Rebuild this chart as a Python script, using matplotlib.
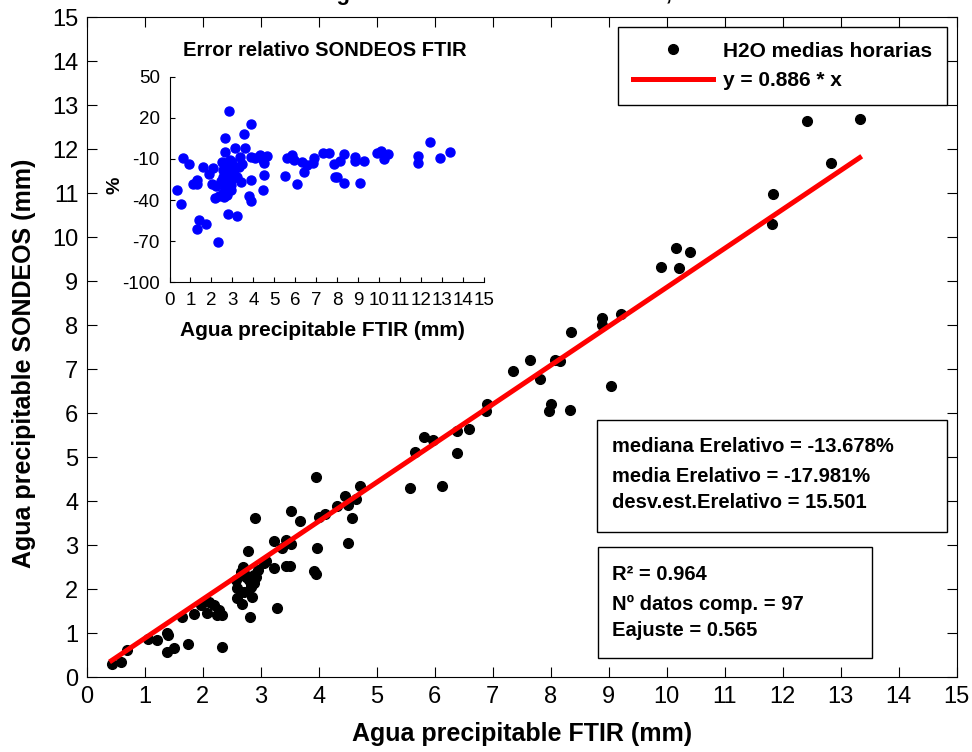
import matplotlib
matplotlib.use('Agg')
import matplotlib.pyplot as plt
from matplotlib.patches import Rectangle

# Agua precipitable, medias horarias (mm)
ftir = [0.43, 0.60, 0.70, 1.06, 1.22, 1.39, 1.40, 1.39, 1.51, 1.74,
        1.65, 1.85, 1.97, 2.11, 2.08, 2.25, 2.29, 2.34, 2.33, 2.57,
        2.60, 2.60, 2.67, 2.70, 2.78, 2.74, 2.80, 2.83, 2.85, 2.81,
        2.89, 2.96, 2.91, 3.10, 3.23, 3.23, 3.29, 3.37, 3.43, 3.43,
        3.50, 3.52, 3.53, 3.67, 3.95, 3.98, 3.92, 3.95, 4.01, 4.11,
        4.31, 4.45, 4.50, 4.50, 4.57, 4.65, 4.71, 5.57, 6.12, 5.67,
        5.81, 5.97, 6.39, 6.38, 6.60, 6.90, 6.88, 7.36, 7.64, 7.82,
        8.00, 7.98, 8.33, 8.08, 8.17, 8.36, 8.88, 8.89, 9.21, 9.05,
        9.90, 10.16, 10.22, 10.40, 11.84, 11.81, 12.43, 12.84, 13.33,
        2.76, 2.88, 2.66, 2.92, 2.72, 2.84, 3.05, 2.20]
sondeos = [0.30, 0.34, 0.62, 0.87, 0.84, 1.01, 0.96, 0.57, 0.66, 0.76,
           1.38, 1.44, 1.64, 1.72, 1.47, 1.42, 1.53, 1.42, 0.70, 2.21,
           2.02, 1.81, 1.66, 2.51, 2.88, 2.29, 2.21, 2.08, 1.83, 1.38,
           2.33, 2.44, 3.61, 2.65, 2.48, 3.10, 1.57, 2.93, 3.12, 2.52,
           2.52, 3.03, 3.79, 3.56, 4.56, 2.93, 2.42, 2.34, 3.65, 3.71,
           3.90, 4.12, 3.92, 3.06, 3.61, 4.05, 4.35, 4.30, 4.35, 5.13,
           5.47, 5.39, 5.10, 5.60, 5.65, 6.21, 6.06, 6.97, 7.20, 6.78,
           6.21, 6.06, 6.07, 7.21, 7.19, 7.84, 8.16, 8.01, 8.26, 6.62,
           9.33, 9.75, 9.30, 9.66, 10.98, 10.30, 12.65, 11.70, 12.70,
           2.30, 2.15, 2.40, 2.28, 1.95, 2.06, 2.60, 1.65]
slope = 0.886

# Error relativo (%) frente a FTIR
err_ftir = [0.37, 0.55, 0.66, 0.95, 1.14, 1.33, 1.30, 1.43, 1.33, 1.73,
            1.62, 1.90, 2.02, 2.09, 2.29, 2.17, 2.38, 2.49, 2.65, 2.65,
            2.84, 2.57, 2.57, 2.65, 2.73, 2.81, 2.89, 2.97, 2.81, 2.78,
            3.24, 3.14, 3.34, 3.21, 3.40, 3.45, 3.53, 3.61, 3.89, 3.89,
            3.81, 3.89, 3.88, 4.08, 4.32, 4.48, 4.51, 4.48, 4.64, 4.53,
            5.52, 5.60, 5.84, 6.08, 5.92, 6.32, 6.40, 6.56, 6.87, 6.84,
            7.32, 7.59, 7.83, 8.11, 8.30, 7.91, 7.99, 8.30, 8.86, 8.86,
            9.26, 9.07, 9.90, 10.10, 10.21, 10.42, 11.84, 11.84, 12.41, 12.89,
            13.37, 2.60, 2.70, 2.75, 2.85, 2.92, 3.00, 2.95, 3.10, 2.55,
            2.80, 3.05, 2.70, 2.20, 2.45, 3.30, 2.62]
err_rel = [-32.7, -43.1, -9.6, -13.9, -28.5, -25.4, -28.5, -54.6, -61.0, -57.7,
           -15.7, -21.0, -28.5, -16.9, -70.9, -38.8, -37.1, -12.0, 5.0, -4.7,
           25.2, -18.1, -23.0, -31.5, -36.4, -15.7, -10.8, -18.1, -27.8, -50.2,
           -51.7, -2.3, -8.4, -23.0, -26.6, -13.9, 8.0, -2.3, 15.3, -25.4,
           -37.1, -40.5, -8.4, -9.6, -7.2, -10.8, -21.8, -32.7, -7.9, -13.2,
           -22.5, -9.6, -7.2, -28.5, -10.8, -12.0, -19.3, -14.5, -9.6, -12.7,
           -5.5, -5.5, -13.9, -11.5, -6.6, -23.0, -23.5, -27.4, -8.4, -11.3,
           -11.3, -27.4, -5.5, -4.2, -10.3, -6.6, -7.9, -12.7, 2.1, -9.6,
           -5.3, -14.0, -20.0, -25.0, -21.5, -29.0, -12.0, -33.0, -18.0, -34.5,
           -12.5, -24.0, -30.0, -30.0, -26.0, -16.0, -38.0]

main_ticks = list(range(0, 16))
err_ticks = [-100, -70, -40, -10, 20, 50]

stats_lines = ['mediana Erelativo = -13.678%',
               'media Erelativo = -17.981%',
               'desv.est.Erelativo = 15.501']
fit_lines = ['R\u00b2 = 0.964',
             'N\u00ba datos comp. = 97',
             'Eajuste = 0.565']

plt.rcParams['font.family'] = ['Liberation Sans', 'DejaVu Sans']
plt.rcParams['axes.unicode_minus'] = False

W, H = 972, 752
fig = plt.figure(figsize=(W / 100, H / 100), dpi=100)


def fx(px):
    return px / W


def fy(py):
    return 1 - py / H


# main axes
ax = fig.add_axes([fx(86.7), fy(677.3), fx(956.5 - 86.7), (677.3 - 17.3) / H])
ax.plot(ftir, sondeos, 'o', color='black', markersize=7, linestyle='none',
        label='H2O medias horarias')
xl = [min(ftir), max(ftir)]
ax.plot(xl, [slope * v for v in xl], color='red', linewidth=3.6,
        label='y = 0.886 * x')
ax.set_xlim(0, 15)
ax.set_ylim(0, 15)
ax.set_xticks(main_ticks)
ax.set_yticks(main_ticks)
ax.tick_params(direction='in', length=7, width=0.8, top=True, right=True,
               labelsize=17, pad=6)
ax.set_xlabel('Agua precipitable FTIR (mm)', fontsize=18, fontweight='bold')
ax.xaxis.set_label_coords(0.5, -0.068)
ax.set_ylabel('Agua precipitable SONDEOS (mm)', fontsize=18, fontweight='bold')
ax.yaxis.set_label_coords(-0.058, 0.475)

leg = ax.legend(loc='upper right', bbox_to_anchor=(fx(947), fy(27)),
                bbox_transform=fig.transFigure, fancybox=False, framealpha=1,
                edgecolor='black', prop={'weight': 'bold', 'size': 15},
                handlelength=3.85, handletextpad=0.5, borderpad=0.7,
                labelspacing=0.5, borderaxespad=0)
leg.get_frame().set_linewidth(1.0)

# title (lies above the visible area, as in the original)
fig.text(fx(521), fy(0), 'Regresi\u00f3n lineal SONDEOS - FTIR, Iza\u00f1a',
         ha='center', va='baseline', fontsize=16, fontweight='bold')

# statistics boxes
fig.add_artist(Rectangle((fx(597), fy(532)), fx(350), 112 / H, transform=fig.transFigure,
                         facecolor='white', edgecolor='black', linewidth=1.0))
for txt, py in zip(stats_lines, [447, 476, 503]):
    fig.text(fx(612), fy(py), txt, ha='left', va='center', fontsize=14.5, fontweight='bold')

fig.add_artist(Rectangle((fx(598), fy(658)), fx(274), 111 / H, transform=fig.transFigure,
                         facecolor='white', edgecolor='black', linewidth=1.0))
for txt, py in zip(fit_lines, [575, 604, 631]):
    fig.text(fx(612), fy(py), txt, ha='left', va='center', fontsize=14.5, fontweight='bold')

# inset: relative error
axi = fig.add_axes([fx(169.5), fy(282.3), fx(484 - 169.5), (282.3 - 76.7) / H])
axi.plot(err_ftir, err_rel, 'o', color='#0000ff', markersize=6.5, linestyle='none')
axi.set_xlim(0, 15)
axi.set_ylim(-100, 50)
axi.set_xticks(main_ticks)
axi.set_yticks(err_ticks)
axi.spines['top'].set_visible(False)
axi.spines['right'].set_visible(False)
axi.tick_params(direction='in', length=3.5, width=0.8, labelsize=13.5, pad=7)
axi.patch.set_alpha(0)
fig.text(fx(325), fy(50), 'Error relativo SONDEOS FTIR', ha='center', va='center',
         fontsize=14.5, fontweight='bold')
fig.text(fx(322), fy(331), 'Agua precipitable FTIR (mm)', ha='center', va='center',
         fontsize=15, fontweight='bold')
fig.text(fx(115), fy(185), '%', ha='center', va='center', rotation=90,
         fontsize=14, fontweight='bold')

fig.savefig('out.png', dpi=100)
